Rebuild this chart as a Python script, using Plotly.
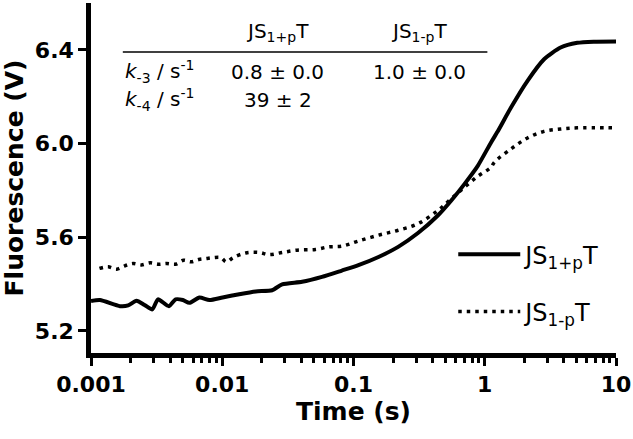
import plotly.graph_objects as go

# JS1+pT (solid) : time (s), fluorescence (V)
t_plus = [0.00100, 0.00117, 0.00166, 0.00192, 0.00222, 0.00256, 0.00293, 0.00324,
          0.00392, 0.00441, 0.00501, 0.00562, 0.00670, 0.00798, 0.01005, 0.01346,
          0.0180, 0.0240, 0.0286, 0.0406, 0.0575, 0.0815, 0.109, 0.155, 0.219,
          0.310, 0.441, 0.556, 0.702, 0.885, 1.117, 1.25, 1.585, 2.118, 2.831,
          3.784, 5.07, 6.76, 10.0]
v_plus = [5.328, 5.332, 5.306, 5.309, 5.329, 5.311, 5.292, 5.335,
          5.306, 5.335, 5.332, 5.320, 5.343, 5.332, 5.343, 5.357,
          5.369, 5.374, 5.399, 5.410, 5.431, 5.458, 5.481, 5.516, 5.559,
          5.618, 5.694, 5.757, 5.828, 5.905, 6.005, 6.050, 6.154, 6.268, 6.360,
          6.410, 6.430, 6.435, 6.436]

# JS1-pT (dotted)
t_minus = [0.00116, 0.00135, 0.00157, 0.00181, 0.00209, 0.00242, 0.00283, 0.00327,
           0.00378, 0.00441, 0.00507, 0.00579, 0.00661, 0.00752, 0.00855, 0.00977,
           0.01076, 0.0121, 0.0151, 0.0191, 0.0227, 0.0286, 0.0372, 0.0513, 0.0647,
           0.0815, 0.109, 0.155, 0.219, 0.310, 0.441, 0.556, 0.702, 0.885, 1.117,
           1.183, 1.585, 2.118, 2.831, 3.784, 5.07, 10.0]
v_minus = [5.467, 5.474, 5.464, 5.478, 5.488, 5.482, 5.491, 5.485,
           5.488, 5.485, 5.502, 5.495, 5.505, 5.509, 5.513, 5.513,
           5.495, 5.513, 5.533, 5.535, 5.526, 5.535, 5.545, 5.548, 5.559,
           5.562, 5.584, 5.609, 5.630, 5.658, 5.715, 5.765, 5.814, 5.860, 5.899,
           5.920, 5.977, 6.024, 6.052, 6.062, 6.067, 6.067]

x_tickvals = [0.001, 0.01, 0.1, 1, 10]
x_ticktext = ["0.001", "0.01", "0.1", "1", "10"]
y_tickvals = [5.2, 5.6, 6.0, 6.4]
y_ticktext = ["5.2", "5.6", "6.0", "6.4"]

series_names = ["JS<sub>1+p</sub>T", "JS<sub>1-p</sub>T"]
row_labels = ["<i>k</i><sub>-3</sub> / s<sup>-1</sup>", "<i>k</i><sub>-4</sub> / s<sup>-1</sup>"]
table_vals = [["0.8 ± 0.0", "1.0 ± 0.0"], ["39 ± 2", ""]]

FONT = "DejaVu Sans, Liberation Sans, sans-serif"

fig = go.Figure()
fig.add_trace(go.Scatter(x=t_plus, y=v_plus, mode="lines", name=series_names[0],
                         legendgroup="a",
                         line=dict(color="black", width=4, shape="spline", smoothing=0.6)))
fig.add_trace(go.Scatter(x=t_minus, y=v_minus, mode="lines", name=series_names[1],
                         legendgroup="b",
                         line=dict(color="black", width=3.5, dash="3.5px,5px", shape="spline")))

fig.update_layout(
    width=633, height=439,
    margin=dict(l=91, r=17, t=3, b=86),
    plot_bgcolor="white", paper_bgcolor="white",
    font=dict(family=FONT, color="black"),
    showlegend=True,
    legend=dict(x=0.69, y=0.345, xanchor="left", yanchor="top",
                font=dict(size=24, family=FONT), itemwidth=62,
                tracegroupgap=23, bgcolor="rgba(0,0,0,0)"),
    xaxis=dict(type="log", range=[-3, 1], showgrid=False, zeroline=False,
               showline=True, linewidth=4.5, linecolor="black", automargin=False,
               tickmode="array", tickvals=x_tickvals, ticktext=x_ticktext,
               ticklabeloverflow="allow",
               ticks="outside", ticklen=8, tickwidth=3, tickcolor="black",
               tickfont=dict(size=22, family=FONT, weight="bold"),
               minor=dict(ticks="outside", ticklen=5, tickwidth=3, tickcolor="black",
                          dtick="D1", showgrid=False),
               title=dict(text="<b>Time (s)</b>", font=dict(size=25), standoff=8)),
    yaxis=dict(range=[5.106, 6.6], showgrid=False, zeroline=False,
               showline=True, linewidth=4.5, linecolor="black", automargin=False,
               tickmode="array", tickvals=y_tickvals, ticktext=y_ticktext,
               ticks="outside", ticklen=8, tickwidth=3, tickcolor="black",
               tickfont=dict(size=22, family=FONT, weight="bold"),
               title=dict(text="<b>Fluorescence (V)</b>", font=dict(size=25), standoff=6)),
)

# table annotations
col_x = [0.356, 0.625]
row_y = [0.803, 0.723]
for name, cx in zip(series_names, col_x):
    fig.add_annotation(x=cx, y=0.917, xref="paper", yref="paper", text=name,
                       showarrow=False, font=dict(size=20), xanchor="center", yanchor="middle")
for lab, ry, vals in zip(row_labels, row_y, table_vals):
    fig.add_annotation(x=0.0606, y=ry, xref="paper", yref="paper", text=lab,
                       showarrow=False, font=dict(size=20), xanchor="left", yanchor="middle")
    for v, cx in zip(vals, col_x):
        if v:
            fig.add_annotation(x=cx, y=ry, xref="paper", yref="paper", text=v,
                               showarrow=False, font=dict(size=20), xanchor="center",
                               yanchor="middle")
fig.add_shape(type="line", xref="paper", yref="paper", x0=0.0606, x1=0.755,
              y0=0.86, y1=0.86, line=dict(color="black", width=1.5))

fig.write_html("out.html", config={"displayModeBar": False},
               post_script="document.body.style.margin='0';")
